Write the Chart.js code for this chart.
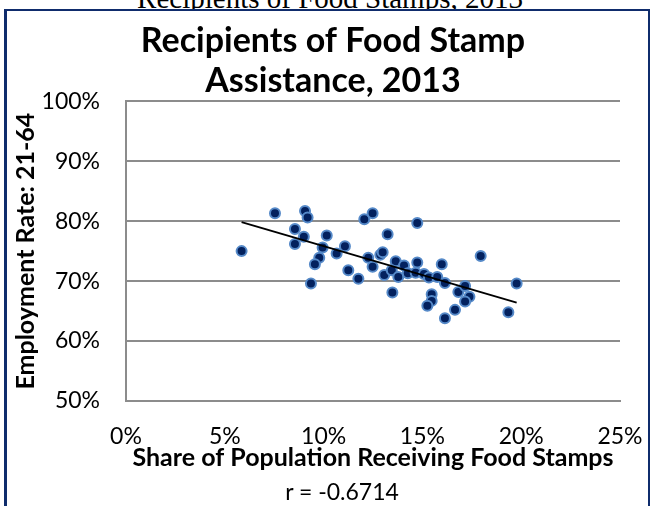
<!DOCTYPE html>
<html lang="en">
<head>
<meta charset="UTF-8">
<title>Recipients of Food Stamp Assistance, 2013</title>
<script src="https://cdn.jsdelivr.net/npm/chart.js"></script>
<style>
    * {
        box-sizing: border-box;
        margin: 0;
        padding: 0;
    }
    body {
        background: #fff;
        width: 655px;
        height: 506px;
        overflow: hidden;
        position: relative;
        font-family: Lato, sans-serif;
    }
    .caption-above {
        position: absolute;
        left: 0;
        top: -16px;
        width: 660px;
        text-align: center;
        font-family: "Liberation Serif", serif;
        font-size: 29px;
        line-height: 29px;
        color: #000;
    }
    .frame {
        position: absolute;
        left: 4px;
        top: 9px;
        width: 646px;
        height: 530px;
        border: solid #0f2c6c;
        border-width: 2px 2px 2px 3px;
        background: #fff;
    }
    #chart {
        position: absolute;
        left: 0;
        top: 0;
    }
    .corr {
        position: absolute;
        left: 0;
        top: 477px;
        width: 684px;
        text-align: center;
        font-size: 23px;
        color: #000;
    }
</style>
</head>
<body>

<div class="caption-above">Recipients of Food Stamps, 2013</div>
<div class="frame"></div>
<canvas id="chart" width="655" height="506"></canvas>
<div class="corr">r = -0.6714</div>

<script>
    // share of population on food stamps (%) and employment rate, ages 21-64 (%)
    const foodStampShare = [5.85, 7.54, 9.06, 9.19, 8.55, 9.0, 8.55, 10.16, 9.95, 9.78,
        9.56, 9.36, 10.66, 11.08, 11.25, 11.76, 12.06, 12.48, 12.26, 12.48,
        12.87, 12.99, 13.24, 13.07, 13.48, 13.65, 13.45, 13.78, 14.07, 14.26,
        14.74, 14.74, 14.66, 15.08, 15.33, 15.47, 15.47, 15.25, 15.75, 15.98,
        16.14, 16.14, 16.65, 16.82, 17.16, 17.38, 17.16, 17.95, 19.35, 19.77];
    const employmentRate = [75.0, 81.3, 81.7, 80.6, 78.7, 77.4, 76.2, 77.6, 75.6, 73.9,
        72.8, 69.6, 74.6, 75.8, 71.8, 70.4, 80.3, 81.3, 73.9, 72.4,
        74.4, 74.8, 77.8, 71.0, 68.1, 73.3, 71.8, 70.7, 72.6, 71.3,
        79.7, 73.1, 71.4, 71.2, 70.6, 67.8, 66.7, 65.9, 70.7, 72.8,
        69.7, 63.8, 65.2, 68.2, 69.2, 67.4, 66.6, 74.2, 64.8, 69.6];
    const titleLines = ['Recipients of Food Stamp', 'Assistance, 2013'];

    // least squares trend line across the range of x
    function trendLine(xs, ys) {
        const n = xs.length;
        const mx = xs.reduce((a, b) => a + b, 0) / n;
        const my = ys.reduce((a, b) => a + b, 0) / n;
        let sxy = 0, sxx = 0;
        for (let i = 0; i < n; i++) {
            sxy += (xs[i] - mx) * (ys[i] - my);
            sxx += (xs[i] - mx) * (xs[i] - mx);
        }
        const slope = sxy / sxx;
        const lo = Math.min(...xs), hi = Math.max(...xs);
        return [
            { x: lo, y: my + slope * (lo - mx) },
            { x: hi, y: my + slope * (hi - mx) }
        ];
    }

    const points = foodStampShare.map((x, i) => ({ x: x, y: employmentRate[i] }));
    const gridGray = '#8c8c8c';

    function draw() {
        new Chart(document.getElementById('chart'), {
            type: 'scatter',
            data: {
                datasets: [{
                    type: 'line',
                    data: trendLine(foodStampShare, employmentRate),
                    borderColor: '#000',
                    borderWidth: 1.8,
                    pointRadius: 0,
                    fill: false,
                    order: 0
                }, {
                    data: points,
                    backgroundColor: '#03215e',
                    borderColor: '#5589c8',
                    borderWidth: 2,
                    pointRadius: 5,
                    order: 1
                }]
            },
            options: {
                responsive: false,
                animation: false,
                layout: { padding: { left: 11, right: 0, top: 0, bottom: 0 } },
                plugins: {
                    legend: { display: false },
                    tooltip: { enabled: false },
                    title: {
                        display: true,
                        text: titleLines,
                        color: '#000',
                        font: { family: 'Lato', size: 34, weight: 'bold', lineHeight: 1.18 },
                        padding: { top: 21, bottom: 0 }
                    }
                },
                scales: {
                    x: {
                        type: 'linear',
                        min: 0,
                        max: 25,
                        ticks: {
                            stepSize: 5,
                            padding: 22,
                            color: '#000',
                            font: { family: 'Lato', size: 23 },
                            callback: v => v + '%'
                        },
                        grid: { display: false, drawTicks: false },
                        border: { color: gridGray, width: 2 },
                        title: {
                            display: true,
                            text: 'Share of Population Receiving Food Stamps',
                            color: '#000',
                            font: { family: 'Lato', size: 25, weight: 'bold' },
                            padding: { top: 0, bottom: 33 }
                        },
                        afterFit: s => { s.height = 105; s.paddingRight = 35; }
                    },
                    y: {
                        min: 50,
                        max: 100,
                        ticks: {
                            stepSize: 10,
                            padding: 26,
                            color: '#000',
                            font: { family: 'Lato', size: 23 },
                            callback: v => v + '%'
                        },
                        grid: { color: gridGray, lineWidth: 2, drawTicks: false },
                        border: { color: gridGray, width: 2 },
                        title: {
                            display: true,
                            text: 'Employment Rate: 21-64',
                            color: '#000',
                            font: { family: 'Lato', size: 25, weight: 'bold' },
                            padding: { top: 0, bottom: 0 }
                        },
                        afterFit: s => { s.width = 115; }
                    }
                }
            }
        });
    }

    Promise.all([
        document.fonts.load('bold 34px Lato'),
        document.fonts.load('23px Lato')
    ]).then(draw, draw);
</script>

</body>
</html>
